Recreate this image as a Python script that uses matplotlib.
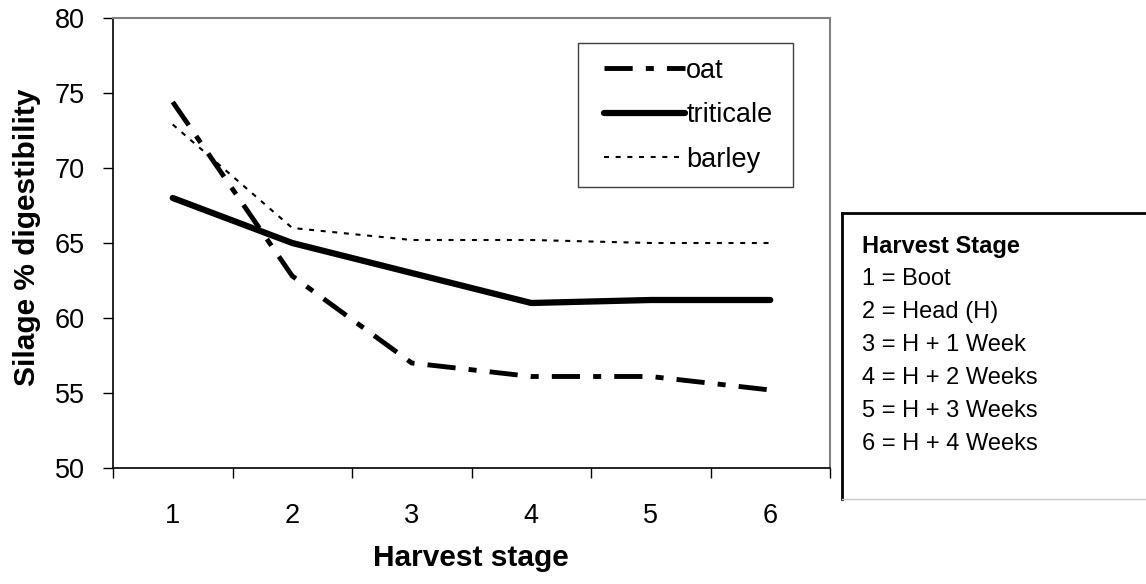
import matplotlib
matplotlib.use("Agg")
import matplotlib.pyplot as plt
from matplotlib.patches import Rectangle
from matplotlib.lines import Line2D
import numpy as np

plt.rcParams['font.family'] = ['Liberation Sans', 'DejaVu Sans']

stages = [1, 2, 3, 4, 5, 6]
oat = [74.4, 62.8, 57.0, 56.1, 56.1, 55.2]
triticale = [68.0, 65.0, 63.0, 61.0, 61.2, 61.2]
barley = [72.9, 66.0, 65.2, 65.2, 65.0, 65.0]
yticks = [50, 55, 60, 65, 70, 75, 80]
key_title = "Harvest Stage"
stage_key = ["1 = Boot", "2 = Head (H)", "3 = H + 1 Week", "4 = H + 2 Weeks",
             "5 = H + 3 Weeks", "6 = H + 4 Weeks"]

W, H = 1146, 584
fig = plt.figure(figsize=(W / 100, H / 100), dpi=100)
ax = fig.add_axes([113 / W, 1 - 468 / H, 717 / W, 450 / H])

ax.plot(stages, oat, color='black', lw=3.5, linestyle=(0, (5.8, 2.7, 1.65, 2.7)), label='oat')
ax.plot(stages, triticale, color='black', lw=4.5, solid_capstyle='round',
        solid_joinstyle='round', label='triticale')
ax.plot(stages, barley, color='black', lw=1.5, linestyle=(0, (2.4, 3.2)), label='barley')

ax.set_xlim(0.5, 6.5)
ax.set_ylim(50, 80)
ax.set_yticks(yticks)
ax.set_xticks(np.arange(0.5, 6.6, 1))
ax.set_xticklabels([])
ax.set_xticks(stages, [str(s) for s in stages], minor=True)
ax.tick_params(axis='x', which='minor', length=0, pad=25, labelsize=19.5)
ax.tick_params(axis='x', which='major', length=7.2, width=1)
ax.tick_params(axis='y', length=7.2, width=1, pad=13, labelsize=19.5)

for s in ['left', 'bottom']:
    ax.spines[s].set_color('black')
    ax.spines[s].set_linewidth(1.2)
for s in ['top', 'right']:
    ax.spines[s].set_color('#808080')
    ax.spines[s].set_linewidth(1.5)

fig.text(27 / W, 1 - 237 / H, 'Silage % digestibility', rotation=90, fontsize=21.5,
         fontweight='bold', ha='center', va='center')
fig.text(471 / W, 1 - 558 / H, 'Harvest stage', fontsize=21.5,
         fontweight='bold', ha='center', va='center')

leg = ax.legend(loc='upper left', bbox_to_anchor=(590 / W, 1 - 44 / H),
                bbox_transform=fig.transFigure, frameon=False, borderpad=0,
                handlelength=3.0, handletextpad=0.05, labelspacing=0.69,
                fontsize=19.5)
fig.add_artist(Rectangle((578 / W, 1 - 187 / H), 215 / W, 144 / H, fill=False,
                         edgecolor='#404040', lw=1, transform=fig.transFigure))

# right key box
fig.add_artist(Line2D([842 / W, 842 / W], [1 - 213 / H, 1 - 499 / H], color='black',
                      lw=2, transform=fig.transFigure))
fig.add_artist(Line2D([842 / W, 1.0], [1 - 213 / H, 1 - 213 / H], color='black',
                      lw=2, transform=fig.transFigure))
fig.add_artist(Line2D([842 / W, 1.0], [1 - 499 / H, 1 - 499 / H], color='#c8c8c8',
                      lw=1, transform=fig.transFigure))

fig.text(862 / W, 1 - 246 / H, key_title, fontsize=17, fontweight='bold',
         ha='left', va='center')
for i, t in enumerate(stage_key):
    fig.text(862 / W, 1 - (279 + 33 * i) / H, t, fontsize=17, ha='left', va='center')

fig.savefig('out.png', dpi=100)
